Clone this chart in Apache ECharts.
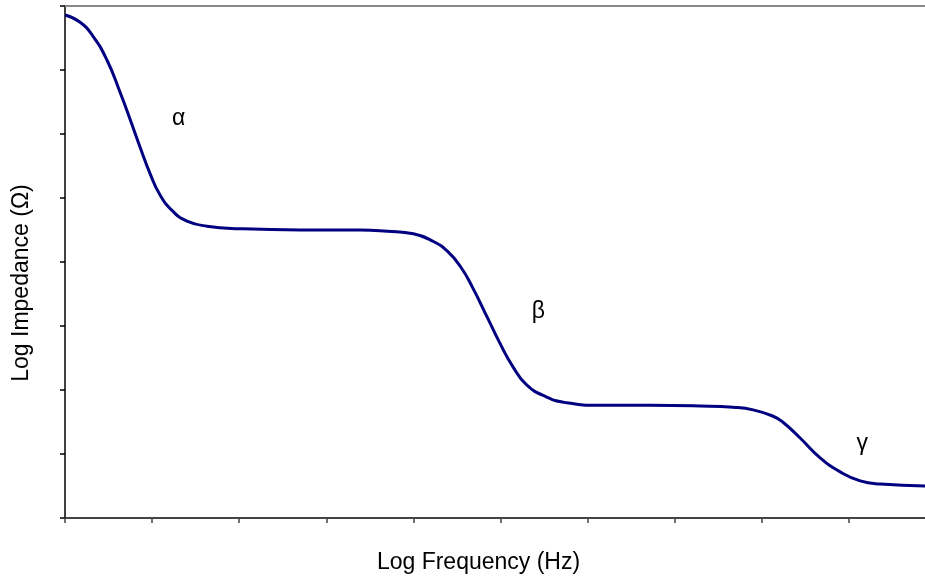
<!DOCTYPE html>
<html>
<head>
<meta charset="utf-8">
<script src="https://cdn.jsdelivr.net/npm/echarts@6/dist/echarts.min.js"></script>
<style>
  html, body { margin: 0; padding: 0; background: #fff; }
  #chart { width: 925px; height: 577px; }
</style>
</head>
<body>
<div id="chart"></div>
<script>
// log frequency (tick units) and log impedance (tick units)
const freq = [0, 0.17, 0.32, 0.48, 0.63, 0.75, 0.86, 0.98, 1.09, 1.24, 1.4, 1.63, 2.01, 2.7, 3.39, 3.7, 4.0, 4.23, 4.39, 4.54, 4.68, 4.85, 4.99, 5.14, 5.3, 5.53, 5.76, 6.14, 6.72, 7.29, 7.67, 7.9, 8.13, 8.24, 8.44, 8.67, 8.9, 9.13, 9.36, 9.9]
const impedance = [7.86, 7.75, 7.53, 7.16, 6.66, 6.22, 5.8, 5.37, 5.05, 4.79, 4.64, 4.56, 4.52, 4.5, 4.5, 4.48, 4.44, 4.32, 4.17, 3.93, 3.6, 3.13, 2.74, 2.37, 2.08, 1.89, 1.8, 1.76, 1.76, 1.75, 1.73, 1.69, 1.59, 1.5, 1.25, 0.94, 0.72, 0.58, 0.53, 0.5]

// dispersion region labels
const regionNames = ['α', 'β', 'γ']
const regionX = [1.31, 5.44, 9.16]
const regionY = [6.23, 3.22, 1.16]

const chart = echarts.init(document.getElementById('chart'))

const font = 'Liberation Sans, Arial, sans-serif'

chart.setOption({
  animation: false,
  grid: {
    left: 65,
    top: 6,
    right: -11,
    bottom: 59,
    outerBoundsMode: 'none',
    containLabel: false
  },
  xAxis: [{
    type: 'value',
    min: 0,
    max: 10,
    interval: 1,
    name: 'Log Frequency (Hz)',
    nameLocation: 'middle',
    nameGap: 33,
    nameTextStyle: {
      fontFamily: font,
      fontSize: 23,
      color: '#000',
      padding: [0, 44, 0, 0]
    },
    axisLine: { lineStyle: { color: '#444', width: 2 } },
    axisTick: { show: true, length: 5, lineStyle: { color: '#444', width: 1.5 } },
    axisLabel: { show: false },
    splitLine: { show: false }
  }, {
    type: 'value',
    position: 'top',
    min: 0,
    max: 10,
    axisLine: { show: true, lineStyle: { color: '#888', width: 2 } },
    axisTick: { show: false },
    axisLabel: { show: false },
    splitLine: { show: false }
  }],
  yAxis: {
    type: 'value',
    min: 0,
    max: 8,
    interval: 1,
    name: 'Log Impedance (Ω)',
    nameLocation: 'middle',
    nameGap: 32,
    nameTextStyle: {
      fontFamily: font,
      fontSize: 23,
      color: '#000',
      padding: [0, 42, 0, 0]
    },
    axisLine: { show: true, lineStyle: { color: '#000', width: 1.5 } },
    axisTick: { show: true, length: 5, lineStyle: { color: '#000', width: 1.5 } },
    axisLabel: { show: false },
    splitLine: { show: false }
  },
  series: [{
    type: 'line',
    data: freq.map((f, i) => [f, impedance[i]]),
    smooth: 0.5,
    showSymbol: false,
    lineStyle: { color: '#000080', width: 3 }
  }, {
    type: 'scatter',
    data: regionX.map((x, i) => [x, regionY[i], regionNames[i]]),
    symbolSize: 1,
    itemStyle: { opacity: 0 },
    label: {
      show: true,
      position: [0, 0],
      align: 'center',
      verticalAlign: 'middle',
      formatter: p => p.data[2],
      fontFamily: font,
      fontSize: 23,
      color: '#000',
      opacity: 1
    },
    emphasis: { disabled: true }
  }]
})
</script>
</body>
</html>
